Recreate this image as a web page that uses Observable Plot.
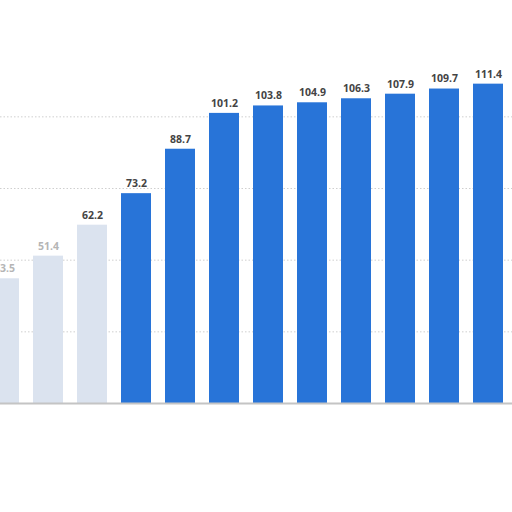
<!DOCTYPE html>
<html>
<head>
<meta charset="utf-8">
<script src="https://cdn.jsdelivr.net/npm/d3@7"></script>
<script src="https://cdn.jsdelivr.net/npm/@observablehq/plot@0.6"></script>
<style>
  html, body { margin: 0; padding: 0; background: #fff; overflow: hidden; }
  #chart svg { display: block; }
</style>
</head>
<body>
<div id="chart"></div>
<script>
const years = ["2013","2014","2015","2016","2017","2018","2019","2020","2021","2022","2023","2024"];
const values = [43.5, 51.4, 62.2, 73.2, 88.7, 101.2, 103.8, 104.9, 106.3, 107.9, 109.7, 111.4];
const gridTicks = [25, 50, 75, 100];

const data = years.map((year, i) => ({year, value: values[i], i}));

const chart = Plot.plot({
  width: 512,
  height: 512,
  marginTop: 59,
  marginBottom: 109,
  marginLeft: 0,
  marginRight: 0,
  style: {background: "#fff", fontFamily: "'Open Sans', 'DejaVu Sans', sans-serif"},
  x: {domain: years, range: [-22, 513], paddingInner: 0.32, paddingOuter: 0.16, axis: null},
  y: {domain: [0, 120], axis: null},
  marks: [
    Plot.ruleY(gridTicks, {stroke: "#cfcfcf", strokeDasharray: "1.5,2", strokeWidth: 1}),
    Plot.barY(data, {
      x: "year", y: "value",
      fill: d => d.i < 3 ? "#dbe3ef" : "#2874d8"
    }),
    Plot.text(data, {
      x: "year", y: "value", text: d => d.value.toFixed(1),
      dy: -10, fontSize: 10.5, fontWeight: "bold",
      fill: d => d.i < 2 ? "#b5b5b5" : "#444"
    }),
    Plot.ruleY([0], {stroke: "#c4c4c4", strokeWidth: 2})
  ]
});
document.getElementById("chart").appendChild(chart);
</script>
</body>
</html>
